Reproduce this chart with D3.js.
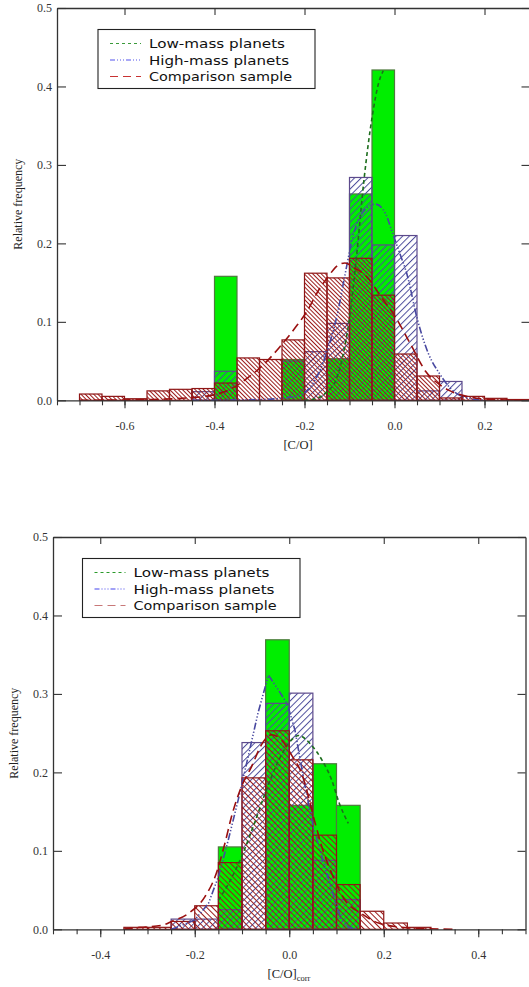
<!DOCTYPE html>
<html><head><meta charset="utf-8">
<script src="https://cdn.jsdelivr.net/npm/d3@7"></script>
<style>body{margin:0;background:#fff}svg{display:block}</style>
</head><body>
<script>
// ---------------- DATA ----------------
const binWidth = 0.05;
const yTicks = [0.0, 0.1, 0.2, 0.3, 0.4, 0.5];
const seriesNames = ["Low-mass planets", "High-mass planets", "Comparison sample"];

// Top panel: [C/O]
const topXTicks = [-0.6, -0.4, -0.2, 0.0, 0.2];
const topBinStarts = [-0.70,-0.65,-0.60,-0.55,-0.50,-0.45,-0.40,-0.35,-0.30,-0.25,-0.20,-0.15,-0.10,-0.05,0.00,0.05,0.10,0.15,0.20,0.25];
const topLow  = [0,0,0,0,0,0,0.158,0,0,0.052,0,0.053,0.263,0.421,0,0,0,0,0,0];
const topHigh = [0,0,0,0,0,0.011,0.037,0,0,0.050,0.062,0.098,0.284,0.198,0.210,0.012,0.024,0,0,0];
const topComp = [0.008,0.005,0.002,0.012,0.014,0.015,0.022,0.054,0.052,0.077,0.162,0.156,0.181,0.134,0.059,0.031,0.003,0.005,0.0025,0.001];
const topLowCurve = [[-0.20,0.0],[-0.17,0.003],[-0.15,0.011],[-0.13,0.026],[-0.115,0.056],[-0.10,0.105],[-0.085,0.18],[-0.068,0.28],[-0.05,0.36],[-0.035,0.405],[-0.025,0.42]];
const topHighCurve = [[-0.45,0.0],[-0.30,0.001],[-0.22,0.005],[-0.187,0.017],[-0.165,0.039],[-0.147,0.068],[-0.128,0.107],[-0.11,0.16],[-0.091,0.212],[-0.07,0.24],[-0.042,0.25],[-0.02,0.238],[-0.006,0.216],[0.01,0.19],[0.028,0.16],[0.05,0.105],[0.075,0.06],[0.10,0.034],[0.125,0.015],[0.15,0.005],[0.20,0.0]];
const topCompCurve = [[-0.70,0.0],[-0.55,0.001],[-0.46,0.003],[-0.40,0.007],[-0.365,0.014],[-0.33,0.027],[-0.29,0.046],[-0.255,0.068],[-0.22,0.093],[-0.195,0.113],[-0.169,0.14],[-0.147,0.158],[-0.128,0.171],[-0.11,0.175],[-0.09,0.169],[-0.061,0.157],[-0.03,0.132],[0.0,0.108],[0.039,0.068],[0.069,0.037],[0.10,0.02],[0.12,0.013],[0.17,0.004],[0.22,0.001],[0.30,0.0]];

// Bottom panel: [C/O]corr
const botXTicks = [-0.4, -0.2, 0.0, 0.2, 0.4];
const botBinStarts = [-0.35,-0.30,-0.25,-0.20,-0.15,-0.10,-0.05,0.00,0.05,0.10,0.15,0.20,0.25,0.30];
const botLow  = [0,0,0,0,0.105,0,0.369,0.158,0.211,0.158,0,0,0,0];
const botHigh = [0,0,0.013,0.013,0.025,0.238,0.288,0.301,0.088,0.038,0,0,0,0];
const botComp = [0.0025,0.0025,0.010,0.030,0.085,0.193,0.253,0.216,0.120,0.057,0.023,0.008,0.0025,0];
const botLowCurve = [[-0.15,0.037],[-0.125,0.062],[-0.10,0.094],[-0.075,0.133],[-0.05,0.175],[-0.025,0.212],[0.0,0.238],[0.02,0.247],[0.045,0.236],[0.069,0.216],[0.09,0.19],[0.105,0.162],[0.125,0.135]];
const botHighCurve = [[-0.25,0.0],[-0.235,0.003],[-0.20,0.012],[-0.171,0.033],[-0.15,0.067],[-0.129,0.114],[-0.108,0.165],[-0.087,0.22],[-0.066,0.276],[-0.044,0.324],[-0.024,0.306],[-0.004,0.287],[0.012,0.254],[0.031,0.19],[0.051,0.13],[0.069,0.093],[0.09,0.05],[0.101,0.028],[0.111,0.012],[0.125,0.003],[0.145,0.0]];
const botCompCurve = [[-0.35,0.0],[-0.34,0.001],[-0.304,0.003],[-0.27,0.005],[-0.249,0.01],[-0.214,0.02],[-0.178,0.042],[-0.157,0.067],[-0.136,0.11],[-0.122,0.144],[-0.101,0.182],[-0.08,0.207],[-0.059,0.235],[-0.037,0.248],[-0.016,0.241],[0.005,0.222],[0.026,0.199],[0.055,0.135],[0.069,0.105],[0.09,0.071],[0.118,0.037],[0.153,0.02],[0.189,0.008],[0.25,0.002],[0.35,0.0]];

// ---------------- DRAW ----------------
const svg = d3.select("body").append("svg").attr("width", 529).attr("height", 987);
const defs = svg.append("defs");

function hatch(id, angle, spacing, color) {
  const p = defs.append("pattern").attr("id", id)
    .attr("patternUnits", "userSpaceOnUse")
    .attr("width", spacing).attr("height", spacing)
    .attr("patternTransform", `rotate(${angle})`);
  p.append("line").attr("x1", 0.5).attr("y1", -1).attr("x2", 0.5).attr("y2", spacing + 1)
    .attr("stroke", color).attr("stroke-width", 1);
}

function panel(o) {
  const g = svg.append("g");
  const x = d3.scaleLinear().domain(o.xDomain).range([o.left, o.right]);
  const y = d3.scaleLinear().domain([0, 0.5]).range([o.bottom, o.top]);
  hatch(o.id + "red", -45, o.redSp, "#9c1c1c");
  hatch(o.id + "blue", 45, o.blueSp, "#4e4e9c");

  const layers = [
    {vals: o.low, fill: "#00ee00", stroke: "#4f7a3e"},
    {vals: o.high, fill: `url(#${o.id}blue)`, stroke: "#5d4a8c"},
    {vals: o.comp, fill: `url(#${o.id}red)`, stroke: "#8e1616"}
  ];
  layers.forEach(L => {
    const d = o.bins.map((b, i) => ({b, v: L.vals[i]})).filter(e => e.v > 0);
    g.append("g").selectAll("rect").data(d).join("rect")
      .attr("x", e => x(e.b))
      .attr("width", e => x(e.b + binWidth) - x(e.b))
      .attr("y", e => y(e.v))
      .attr("height", e => y(0) - y(e.v))
      .attr("fill", L.fill)
      .attr("stroke", L.stroke).attr("stroke-width", 1.2);
  });

  // curves
  const curves = [
    {pts: o.lowCurve, color: "#1d6e1d", dash: "4,3", curve: d3.curveMonotoneX},
    {pts: o.highCurve, color: "#4848a0", dash: "7,2,1.3,2,1.3,2,1.3,2", curve: o.highLinear ? d3.curveLinear : d3.curveMonotoneX},
    {pts: o.compCurve, color: "#9a0f0f", dash: "9,5", curve: d3.curveMonotoneX}
  ];
  curves.forEach(c => {
    g.append("path").datum(c.pts)
      .attr("d", d3.line().x(p => x(p[0])).y(p => y(p[1])).curve(c.curve))
      .attr("fill", "none").attr("stroke", c.color).attr("stroke-width", 1.6)
      .attr("stroke-dasharray", c.dash);
  });

  // axes
  const axColor = "#333";
  const fmt = d => d.toFixed(1);
  const minor = d3.range(Math.round(o.xDomain[0] / 0.05), Math.round(o.xDomain[1] / 0.05) + 1).map(k => k * 0.05);
  const gb = g.append("g").attr("transform", `translate(0,${o.bottom})`)
    .call(d3.axisBottom(x).tickValues(o.xTicks).tickSizeInner(8).tickSizeOuter(0).tickPadding(13).tickFormat(fmt));
  const gbm = g.append("g").attr("transform", `translate(0,${o.bottom})`)
    .call(d3.axisBottom(x).tickValues(minor).tickSizeInner(5).tickSizeOuter(0).tickFormat(""));
  gbm.select(".domain").remove();
  const gt = g.append("g").attr("transform", `translate(0,${o.top})`)
    .call(d3.axisTop(x).tickValues(o.xTicks).tickSizeInner(-7).tickSizeOuter(0).tickFormat(""));
  const gl = g.append("g").attr("transform", `translate(${o.left},0)`)
    .call(d3.axisLeft(y).tickValues(yTicks).tickSizeInner(-9).tickSizeOuter(0).tickPadding(5).tickFormat(fmt));
  const gr = g.append("g").attr("transform", `translate(${o.right},0)`)
    .call(d3.axisRight(y).tickValues(yTicks).tickSizeInner(-8).tickSizeOuter(0).tickFormat(""));
  [gb, gbm, gt, gl, gr].forEach(a => {
    a.selectAll(".domain").attr("stroke", axColor).attr("stroke-width", 1.3);
    a.selectAll(".tick line").attr("stroke", axColor).attr("stroke-width", 1.1);
    a.selectAll("text").attr("font-family", "Liberation Serif, Times New Roman, serif")
      .attr("font-size", 12).attr("fill", "#333");
  });

  // axis titles
  const xt = g.append("text").attr("x", o.xTitleX).attr("y", o.bottom + 49)
    .attr("text-anchor", "middle").attr("font-family", "Liberation Serif, serif")
    .attr("font-size", 12.5).attr("fill", "#222");
  xt.append("tspan").text("[C/O]");
  if (o.sub) xt.append("tspan").attr("font-size", 8.5).attr("dy", 3).text(o.sub);
  g.append("text").attr("transform", `translate(${o.left - 35},${(o.top + o.bottom) / 2}) rotate(-90)`)
    .attr("text-anchor", "middle").attr("font-family", "Liberation Serif, serif")
    .attr("font-size", 12).attr("fill", "#222").text("Relative frequency");

  // legend
  const L = o.legend;
  g.append("rect").attr("x", L.x).attr("y", L.y).attr("width", L.w).attr("height", L.h)
    .attr("fill", "#fff").attr("stroke", "#222").attr("stroke-width", 1.1);
  const lstyles = [
    {color: L.colors[0], dash: "3,3"},
    {color: L.colors[1], dash: "5,2,1,2,1,2,1,2"},
    {color: L.colors[2], dash: "8,5"}
  ];
  const widths = L.textW;
  seriesNames.forEach((name, i) => {
    const yy = L.y + L.row0 + i * 16.5;
    g.append("line").attr("x1", L.x + 12).attr("x2", L.x + 43).attr("y1", yy - 4.5).attr("y2", yy - 4.5)
      .attr("stroke", lstyles[i].color).attr("stroke-width", 1.2).attr("stroke-dasharray", lstyles[i].dash);
    g.append("text").attr("x", L.x + 51).attr("y", yy)
      .attr("font-family", "DejaVu Sans, sans-serif").attr("font-size", 13).attr("fill", "#111")
      .attr("textLength", widths[i]).attr("lengthAdjust", "spacingAndGlyphs")
      .text(name);
  });
}

panel({
  id: "t", left: 57, right: 529.5, top: 8, bottom: 400.3, xDomain: [-0.75, 0.3],
  xTicks: topXTicks, bins: topBinStarts, low: topLow, high: topHigh, comp: topComp,
  lowCurve: topLowCurve, highCurve: topHighCurve, compCurve: topCompCurve,
  redSp: 3, blueSp: 4.7, xTitleX: 298, sub: null,
  legend: {x: 98, y: 29.5, w: 217, h: 59, row0: 18.5, textW: [136, 140, 143],
    colors: ["#3a9a3a", "#5555ee", "#c83232"]}
});
panel({
  id: "b", left: 53, right: 525.5, top: 537, bottom: 929.3, xDomain: [-0.5, 0.5],
  xTicks: botXTicks, bins: botBinStarts, low: botLow, high: botHigh, comp: botComp,
  lowCurve: botLowCurve, highCurve: botHighCurve, compCurve: botCompCurve, highLinear: true,
  redSp: 4, blueSp: 4.7, xTitleX: 289, sub: "corr",
  legend: {x: 82.5, y: 558.5, w: 217.5, h: 59, row0: 18.5, textW: [136, 141, 143],
    colors: ["#2a9a2a", "#4444ee", "#c87878"]}
});
</script>
</body></html>
